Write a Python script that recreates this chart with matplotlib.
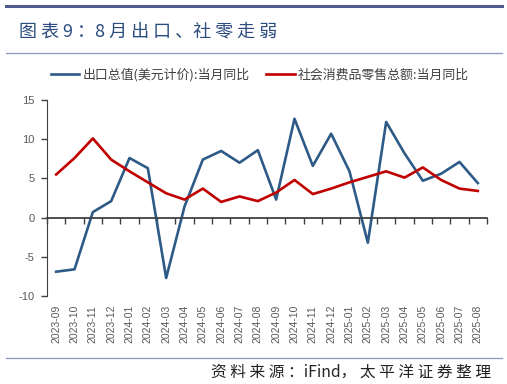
import numpy as np
import matplotlib
matplotlib.use('Agg')
import matplotlib.pyplot as plt
from matplotlib.lines import Line2D

plt.rcParams['font.family'] = ['Noto Sans CJK SC', 'DejaVu Sans']
plt.rcParams['axes.unicode_minus'] = False

# data (% yoy)
months = ['2023-09', '2023-10', '2023-11', '2023-12', '2024-01', '2024-02',
          '2024-03', '2024-04', '2024-05', '2024-06', '2024-07', '2024-08',
          '2024-09', '2024-10', '2024-11', '2024-12', '2025-01', '2025-02',
          '2025-03', '2025-04', '2025-05', '2025-06', '2025-07', '2025-08']
exports = [-6.9, -6.6, 0.7, 2.1, 7.6, 6.3, -7.7, 1.4, 7.4, 8.5, 7.0, 8.6,
           2.3, 12.6, 6.6, 10.7, 5.9, -3.2, 12.2, 8.2, 4.7, 5.6, 7.1, 4.4]
retail = [5.5, 7.6, 10.1, 7.4, 5.9, 4.5, 3.1, 2.3, 3.7, 2.0, 2.7, 2.1,
          3.2, 4.8, 3.0, 3.7, 4.5, 5.2, 5.9, 5.1, 6.4, 4.8, 3.7, 3.4]
label_exp = '出口总值(美元计价):当月同比'
label_ret = '社会消费品零售总额:当月同比'
yticks = [-10, -5, 0, 5, 10, 15]

blue = '#2E5A87'
red = '#C00000'
grey = '#595959'

fig = plt.figure(figsize=(5.07, 3.84), dpi=100)
W, H = 507, 384

# frame lines and title
fig.add_artist(Line2D([6 / W, 502 / W], [1 - 6 / H, 1 - 6 / H], color='#505A8C', lw=2.2))
fig.add_artist(Line2D([6 / W, 502 / W], [1 - 53 / H, 1 - 53 / H], color='#8E96C2', lw=0.9))
fig.add_artist(Line2D([6 / W, 502 / W], [1 - 358 / H, 1 - 358 / H], color='#8E96C2', lw=0.9))
fig.text(19 / W, 1 - 32 / H, '图 表 9 ：8 月 出 口 、社 零 走 弱', color='#2B4C7E',
         fontsize=13, ha='left', va='center')
fig.text(491 / W, 1 - 372 / H, '资 料 来 源 ：iFind， 太 平 洋 证 券 整 理', color='#222222',
         fontsize=11.3, ha='right', va='center', style='italic')

ax = fig.add_axes([47 / W, 1 - 296 / H, 440 / W, 196 / H])
x = np.arange(len(months))
ax.plot(x, exports, color=blue, lw=1.9, label=label_exp)
ax.plot(x, retail, color=red, lw=1.9, label=label_ret)

ax.set_xlim(-0.5, len(months) - 0.5)
ax.set_ylim(-10, 15)
ax.set_yticks(yticks)
ax.set_yticklabels([str(v) for v in yticks], fontfamily='Liberation Sans')
ax.tick_params(axis='y', direction='out', length=4, width=1, colors='#404040',
               labelcolor=grey, labelsize=8, pad=5)

for s in ['top', 'right']:
    ax.spines[s].set_visible(False)
ax.spines['left'].set_color('#404040')
ax.spines['bottom'].set_position(('data', 0))
ax.spines['bottom'].set_color('#404040')
ax.spines['bottom'].set_linewidth(1.3)

ax.set_xticks(x)
ax.set_xticklabels([])
ax.tick_params(axis='x', which='major', length=0)
ax.set_xticks(np.arange(-0.5, len(months)), minor=True)
ax.tick_params(axis='x', which='minor', direction='out', length=4, width=1, colors='#404040')

for i, m in enumerate(months):
    ax.text(i, -0.045, m, transform=ax.get_xaxis_transform(), rotation=90,
            ha='center', va='top', fontsize=7.5, color=grey, fontfamily='Liberation Sans')

leg = ax.legend(loc='center', bbox_to_anchor=(0.4836, 1 + 25 / 196), ncol=2, frameon=False,
                fontsize=9.3, handlelength=2.2, columnspacing=1.3, handletextpad=0.25)
for t in leg.get_texts():
    t.set_color('#404040')

fig.savefig('out.png', dpi=100)
